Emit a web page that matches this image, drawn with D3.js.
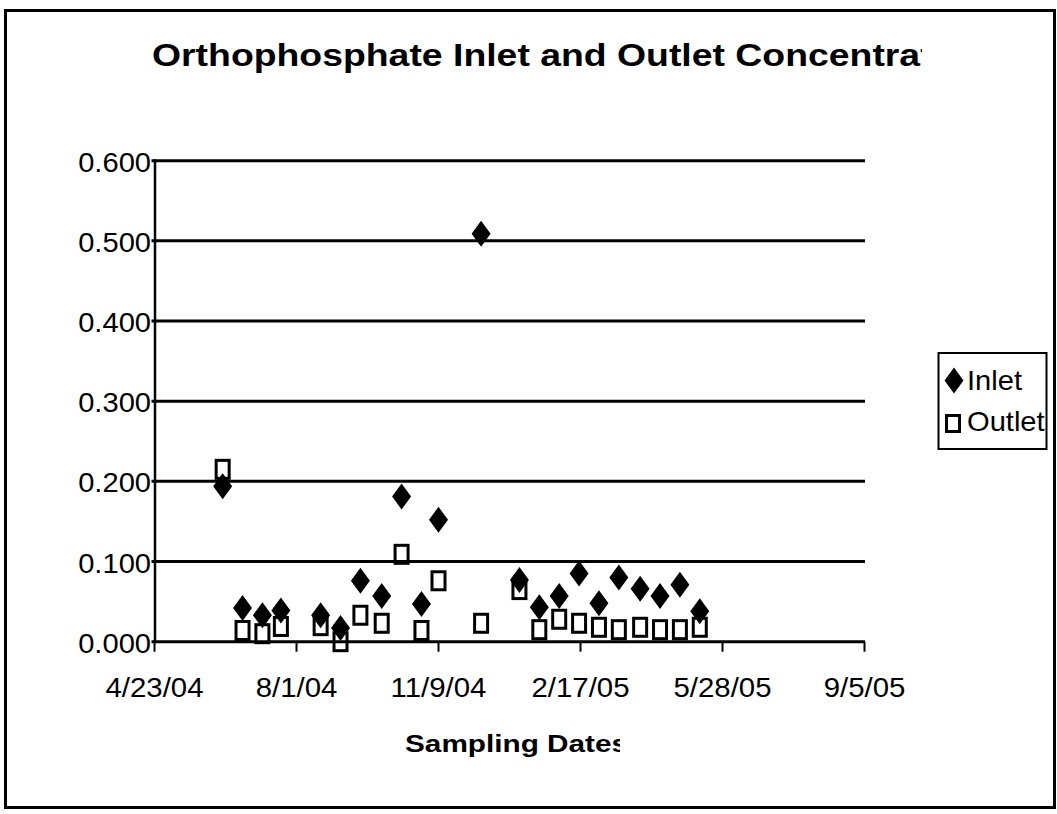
<!DOCTYPE html>
<html>
<head>
<meta charset="utf-8">
<script src="https://cdn.jsdelivr.net/npm/d3@7"></script>
<style>
  body { margin: 0; background: #fff; }
  text { font-family: "Liberation Sans", Arial, sans-serif; fill: #000; }
</style>
</head>
<body>
<div id="chart"></div>
<script>
var width = 1057; var height = 814;

// sampling dates and concentrations (mg/L)
var sampleDates = ["6/10/04","6/24/04","7/8/04","7/21/04","8/18/04","9/1/04","9/15/04","9/30/04",
	"10/14/04","10/28/04","11/9/04","12/9/04","1/5/05","1/19/05","2/2/05","2/16/05",
	"3/2/05","3/16/05","3/31/05","4/14/05","4/28/05","5/12/05"];
var inletValues = [0.194,0.042,0.033,0.039,0.033,0.017,0.076,0.057,
	0.181,0.047,0.152,0.509,0.077,0.043,0.057,0.085,
	0.048,0.080,0.066,0.057,0.071,0.038];
var outletValues = [0.215,0.014,0.010,0.019,0.020,0.000,0.033,0.023,
	0.109,0.014,0.076,0.023,0.065,0.015,0.028,0.023,
	0.018,0.015,0.018,0.015,0.015,0.018];
var xTickLabels = ["4/23/04","8/1/04","11/9/04","2/17/05","5/28/05","9/5/05"];
var yTickValues = [0,0.1,0.2,0.3,0.4,0.5,0.6];
var seriesNames = ["Inlet","Outlet"];

var parse = d3.utcParse("%m/%d/%y");
var fmtDate = d3.utcFormat("%-m/%-d/%y");

var plot = {left: 155, right: 865, top: 160.7, bottom: 641.7};

var x = d3.scaleUtc()
	.domain([parse(xTickLabels[0]), parse(xTickLabels[xTickLabels.length-1])])
	.range([154.5, 864.5]);
var y = d3.scaleLinear().domain([0,0.6]).range([plot.bottom, plot.top]);

var svg = d3.select("#chart").append("svg")
	.attr("width", width)
	.attr("height", height);

var defs = svg.append("defs");
defs.append("clipPath").attr("id","titleClip")
	.append("rect").attr("x",0).attr("y",0).attr("width",922).attr("height",120);
defs.append("clipPath").attr("id","xlabClip")
	.append("rect").attr("x",0).attr("y",700).attr("width",620).attr("height",80);

// outer frame
svg.append("rect")
	.attr("x",5.5).attr("y",10.5).attr("width",1049).attr("height",797)
	.attr("fill","#fff").attr("stroke","#000").attr("stroke-width",3);

// measure bold text so the stretched title lands where the picture has it
function textWidth(str, size, weight) {
	var t = svg.append("text").attr("font-size",size).attr("font-weight",weight).text(str);
	var w = t.node().getComputedTextLength();
	t.remove();
	return w;
}
var titleSx = 378 / textWidth("Orthophosphate Inlet", 32, "bold");

svg.append("g").attr("clip-path","url(#titleClip)")
	.append("text")
	.attr("transform","translate(152,65.5) scale(" + titleSx + ",1)")
	.attr("font-size",32).attr("font-weight","bold")
	.text("Orthophosphate Inlet and Outlet Concentrations");

// gridlines (the 0 line doubles as the x axis)
var grid = svg.append("g");
grid.selectAll("line")
	.data(yTickValues).enter()
	.append("line")
	.attr("x1", 151.5).attr("x2", plot.right)
	.attr("y1", function(d) { return y(d); })
	.attr("y2", function(d) { return y(d); })
	.attr("stroke","#000").attr("stroke-width",3);

// y axis
svg.append("line")
	.attr("x1",155).attr("x2",155)
	.attr("y1",y(0.6)-1.5).attr("y2",y(0)+1.5)
	.attr("stroke","#000").attr("stroke-width",2.5);

svg.append("g").selectAll("text")
	.data(yTickValues).enter()
	.append("text")
	.attr("transform", function(d) { return "translate(151," + (y(d)+11) + ") scale(1.04,1)"; })
	.attr("text-anchor","end")
	.attr("font-size",28)
	.text(d3.format(".3f"));

// x axis ticks and labels
var xTicks = xTickLabels.map(parse);
svg.append("g").selectAll("line")
	.data(xTicks).enter()
	.append("line")
	.attr("x1", function(d) { return x(d); })
	.attr("x2", function(d) { return x(d); })
	.attr("y1", y(0)).attr("y2", y(0)+10)
	.attr("stroke","#000").attr("stroke-width",2);

svg.append("g").selectAll("text")
	.data(xTicks).enter()
	.append("text")
	.attr("transform", function(d) { return "translate(" + x(d) + ",697) scale(1.05,1)"; })
	.attr("text-anchor","middle")
	.attr("font-size",28)
	.text(fmtDate);

svg.append("g").attr("clip-path","url(#xlabClip)")
	.append("text")
	.attr("transform","translate(405,752) scale(1.24,1)")
	.attr("font-size",24).attr("font-weight","bold")
	.text("Sampling Dates");

// markers
var diamond = "M0,-13L9.5,0L0,13L-9.5,0Z";
var pts = sampleDates.map(function(s,i) { return {date: parse(s), inlet: inletValues[i], outlet: outletValues[i]}; });

svg.append("g").selectAll("path")
	.data(pts).enter()
	.append("path")
	.attr("d", diamond)
	.attr("transform", function(d) { return "translate(" + x(d.date) + "," + y(d.inlet) + ")"; })
	.attr("fill","#000");

svg.append("g").selectAll("rect")
	.data(pts).enter()
	.append("rect")
	.attr("x", function(d) { return x(d.date) - 6.5; })
	.attr("y", function(d) { return y(d.outlet) - 9; })
	.attr("width",13).attr("height",18)
	.attr("fill","none").attr("stroke","#000").attr("stroke-width",3);

// legend
var legend = svg.append("g");
legend.append("rect")
	.attr("x",938.5).attr("y",353).attr("width",108).attr("height",96)
	.attr("fill","#fff").attr("stroke","#000").attr("stroke-width",2);
legend.append("path")
	.attr("d", diamond)
	.attr("transform","translate(954,380.5)")
	.attr("fill","#000");
legend.append("rect")
	.attr("x",946.5).attr("y",415.5).attr("width",13).attr("height",16)
	.attr("fill","none").attr("stroke","#000").attr("stroke-width",3);
legend.selectAll(".legendLabel")
	.data(seriesNames).enter()
	.append("text")
	.attr("class","legendLabel")
	.attr("transform", function(d,i) { return "translate(967," + (389.5 + i*41) + ") scale(1.04,1)"; })
	.attr("font-size",28)
	.text(function(d) { return d; });
</script>
</body>
</html>
